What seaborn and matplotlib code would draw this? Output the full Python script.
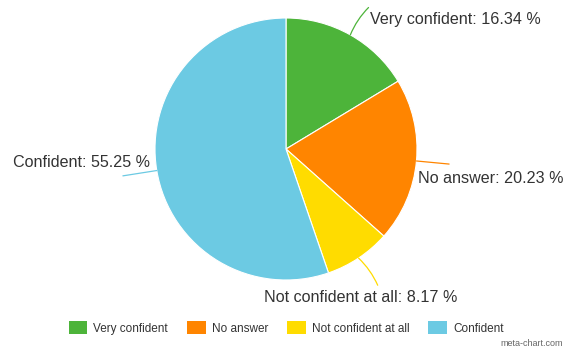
import numpy as np
import matplotlib
matplotlib.use("Agg")
import matplotlib.pyplot as plt
import seaborn as sns
from matplotlib.patches import Patch

sns.set_theme(style="white")
plt.rcParams["font.family"] = ["Liberation Sans", "DejaVu Sans"]

categories = ["Very confident", "No answer", "Not confident at all", "Confident"]
shares = [16.34, 20.23, 8.17, 55.25]
colors = sns.color_palette(["#4db43a", "#ff8500", "#ffdc00", "#6ccae3"])

fig = plt.figure(figsize=(5.69, 3.47), dpi=100)
ax = fig.add_axes([155 / 569, 1 - 280 / 347, 262 / 569, 262 / 347])

wedges, _ = ax.pie(shares, colors=colors, startangle=90, counterclock=False,
                   radius=1.0, wedgeprops=dict(edgecolor="white", linewidth=0.8))
ax.set_xlim(-1, 1)
ax.set_ylim(-1, 1)
ax.set_aspect("equal")
ax.axis("off")

# connector end points and label anchors (in pie radius units)
line_ends = [(0.63, 1.08), (1.245, -0.115), (0.70, -1.04), (-1.245, -0.205)]
text_pos = [(0.645, 0.985, "left"), (1.01, -0.225, "left"),
            (-0.165, -1.135, "left"), (-1.035, -0.10, "right")]
curves = [0.1, 0.0, 0.1, 0.0]

for w, share, name, col, end, (tx, ty, ha), rad in zip(
        wedges, shares, categories, colors, line_ends, text_pos, curves):
    mid = np.deg2rad((w.theta1 + w.theta2) / 2)
    start = (np.cos(mid), np.sin(mid))
    ax.annotate("", xy=start, xytext=end, annotation_clip=False,
                arrowprops=dict(arrowstyle="-", color=col, lw=0.9,
                                shrinkA=0, shrinkB=0,
                                connectionstyle=f"arc3,rad={rad}"))
    ax.text(tx, ty, f"{name}: {share:.2f} %", ha=ha, va="center",
            fontsize=11.6, color="#333333", clip_on=False)

handles = [Patch(facecolor=c, edgecolor="none") for c in colors]
fig.legend(handles, categories, loc="center", bbox_to_anchor=(286 / 569, 1 - 328 / 347),
           ncol=4, frameon=False, fontsize=8.5, handlelength=1.6, handleheight=1.2,
           handletextpad=0.5, columnspacing=1.6, labelcolor="#333333")

fig.text(563 / 569, 1 - 343 / 347, "meta-chart.com", ha="right", va="center",
         fontsize=6.5, color="#666666")

fig.savefig("out.png", dpi=100)
